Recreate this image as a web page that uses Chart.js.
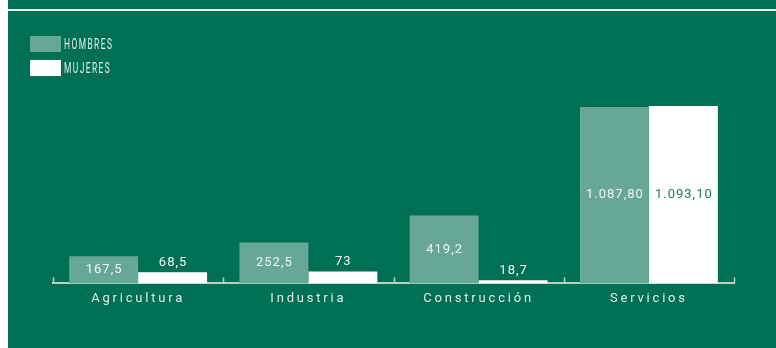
<!DOCTYPE html>
<html lang="es">
<head>
  <meta charset="UTF-8">
  <title>Ocupados por sector</title>
  <script src="https://cdn.jsdelivr.net/npm/chart.js"></script>
  <style>
    body {
      margin: 0;
      background: #ffffff;
      width: 776px;
      height: 348px;
      overflow: hidden;
      font-family: Roboto, "DejaVu Sans", sans-serif;
    }
    .panel {
      position: absolute;
      left: 8px;
      top: 0;
      width: 768px;
      height: 348px;
      background: #007054;
    }
    .linea {
      position: absolute;
      left: 8px;
      top: 9px;
      width: 768px;
      height: 2px;
      background: #e8f1ed;
    }
    canvas {
      position: absolute;
      left: 0;
      top: 0;
    }
    .leyenda {
      position: absolute;
      left: 30px;
      top: 36px;
      z-index: 2;
    }
    .item {
      display: flex;
      align-items: center;
      height: 16px;
      margin-bottom: 8px;
    }
    .caja {
      width: 31px;
      height: 16px;
      margin-right: 3px;
    }
    .texto {
      color: #e4eeea;
      font-size: 14px;
      letter-spacing: 2.4px;
      transform: scaleX(0.6);
      transform-origin: left center;
      white-space: nowrap;
    }
  </style>
</head>
<body>
  <div class="panel"></div>
  <div class="linea"></div>
  <div class="leyenda" id="leyenda"></div>
  <canvas id="grafico" width="776" height="348"></canvas>

  <script>
const categorias = ['Agricultura', 'Industria', 'Construcción', 'Servicios'];
const hombres = [167.5, 252.5, 419.2, 1087.8];
const mujeres = [68.5, 73, 18.7, 1093.1];
const etiquetasHombres = ['167,5', '252,5', '419,2', '1.087,80'];
const etiquetasMujeres = ['68,5', '73', '18,7', '1.093,10'];

const colorHombres = '#66a895';
const colorMujeres = '#ffffff';
const colorEje = '#b7d1c7';

// etiquetas de valor: dentro de la barra si cabe, encima si no
const etiquetasValor = {
  id: 'etiquetasValor',
  afterDatasetsDraw(chart) {
    const ctx = chart.ctx;
    ctx.save();
    ctx.font = '13px Roboto, "DejaVu Sans", sans-serif';
    ctx.letterSpacing = '1px';
    ctx.textAlign = 'center';
    chart.data.datasets.forEach((ds, i) => {
      chart.getDatasetMeta(i).data.forEach((bar, j) => {
        const alto = bar.base - bar.y;
        const txt = ds.etiquetas[j];
        if (alto > 24) {
          ctx.fillStyle = ds.colorTextoDentro;
          ctx.textBaseline = 'middle';
          ctx.fillText(txt, bar.x + 0.5, (bar.y + bar.base) / 2);
        } else {
          ctx.fillStyle = '#f2f7f5';
          ctx.textBaseline = 'bottom';
          ctx.fillText(txt, bar.x + 0.5, bar.y - 3);
        }
      });
    });
    ctx.restore();
  }
};

// marcas del eje x hacia arriba en los limites de cada categoria
const marcasEje = {
  id: 'marcasEje',
  beforeDraw(chart) {
    chart.ctx.letterSpacing = '2.8px';
  },
  afterDraw(chart) {
    const ctx = chart.ctx;
    const x = chart.scales.x;
    const n = categorias.length;
    ctx.save();
    ctx.strokeStyle = colorEje;
    ctx.lineWidth = 1.5;
    for (let i = 0; i <= n; i++) {
      const px = Math.round(x.left + i * x.width / n) + 0.5;
      ctx.beginPath();
      ctx.moveTo(px, x.top);
      ctx.lineTo(px, x.top - 6);
      ctx.stroke();
    }
    ctx.restore();
    ctx.letterSpacing = '0px';
  }
};

const datasets = [
  {
    label: 'HOMBRES',
    data: hombres,
    etiquetas: etiquetasHombres,
    colorTextoDentro: '#eef5f2',
    backgroundColor: colorHombres
  },
  {
    label: 'MUJERES',
    data: mujeres,
    etiquetas: etiquetasMujeres,
    colorTextoDentro: '#1b7a5f',
    backgroundColor: colorMujeres
  }
];

document.getElementById('leyenda').innerHTML = datasets.map(ds =>
  `<div class="item"><div class="caja" style="background:${ds.backgroundColor}"></div><span class="texto">${ds.label}</span></div>`
).join('');

new Chart(document.getElementById('grafico').getContext('2d'), {
  type: 'bar',
  data: {
    labels: categorias,
    datasets: datasets.map(ds => ({ ...ds, categoryPercentage: 0.81, barPercentage: 1.0, borderWidth: 0 }))
  },
  options: {
    responsive: false,
    animation: false,
    layout: { padding: { left: 53, right: 42, top: 105, bottom: 33 } },
    plugins: {
      legend: { display: false },
      tooltip: { enabled: false }
    },
    scales: {
      x: {
        grid: { display: true, drawOnChartArea: false, drawTicks: false, offset: true },
        border: { display: true, color: colorEje, width: 2 },
        ticks: {
          color: '#e1ece8',
          padding: 8,
          font: { family: 'Roboto, "DejaVu Sans", sans-serif', size: 13 },
          maxRotation: 0
        }
      },
      y: {
        display: false,
        min: 0,
        max: 1100
      }
    }
  },
  plugins: [etiquetasValor, marcasEje]
});
</script>
</body>
</html>
